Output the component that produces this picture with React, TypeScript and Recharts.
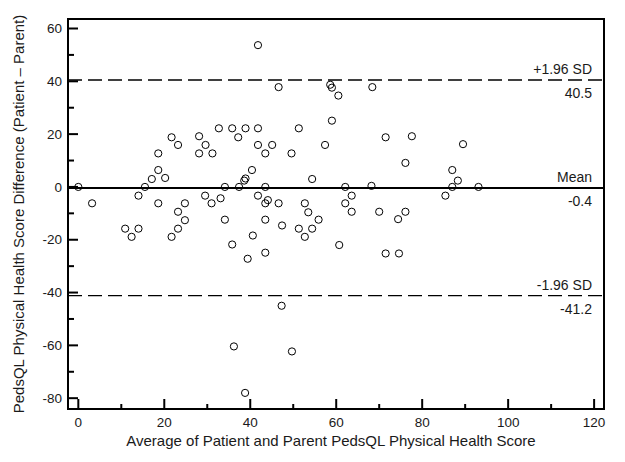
import { ScatterChart, Scatter, XAxis, YAxis, ReferenceLine, ReferenceArea } from 'recharts';

// Bland-Altman: average score (x) vs patient - parent difference (y)
const avgScore = [
  0, 3.2, 10.9, 12.4, 14.0, 14.0, 15.5, 17.1, 18.6, 18.6,
  18.6, 20.2, 21.7, 23.2, 21.7, 23.2, 23.2, 24.8, 24.8, 28.1,
  28.1, 29.6, 31.2, 29.5, 31.0, 33.1, 32.7, 35.8, 37.2, 38.9,
  41.8, 41.8, 41.8, 34.1, 37.4, 38.6, 38.9, 40.4, 41.8, 34.1,
  35.8, 39.4, 40.6, 36.2, 38.8, 43.5, 45.1, 43.5, 44.1, 43.5,
  46.6, 43.5, 43.5, 46.6, 47.4, 47.3, 49.6, 49.7, 51.3, 51.3,
  52.7, 53.5, 54.4, 52.7, 54.4, 55.9, 57.4, 58.6, 59.0, 60.5,
  59.0, 60.7, 62.1, 63.6, 62.1, 63.6, 68.4, 68.2, 70.0, 71.5,
  71.5, 74.4, 74.6, 76.1, 76.1, 77.6, 85.4, 87.0, 88.3, 87.0,
  89.5, 93.1,
];
const scoreDiff = [
  0, -6.2, -15.8, -18.9, -15.8, -3.3, 0, 3.0, 6.4, 12.7,
  -6.2, 3.4, 18.8, 15.9, -18.9, -15.8, -9.4, -6.2, -12.6, 19.2,
  12.7, 15.9, 12.7, -3.3, -6.2, -4.3, 22.2, 22.2, 18.8, 22.2,
  22.2, 15.9, 53.7, 0, 0, 2.4, 3.2, 6.4, -3.3, -12.4,
  -21.8, -27.2, -18.4, -60.4, -78.0, 12.7, 15.9, 0, -5.0, -6.2,
  -6.2, -12.4, -24.9, 37.8, -14.6, -45.0, 12.7, -62.3, 22.2, -15.8,
  -6.2, -9.6, -15.8, -18.9, 3.0, -12.4, 15.9, 38.7, 37.6, 34.6,
  25.1, -22.0, 0, -3.3, -6.2, -9.4, 37.8, 0.4, -9.4, 18.8,
  -25.2, -12.2, -25.2, 9.1, -9.4, 19.2, -3.3, 6.4, 2.4, 0,
  16.2, 0,
];

const meanDiff = -0.4;
const upperLimit = 40.5;
const lowerLimit = -41.2;

const xTicks = [0, 10, 20, 30, 40, 50, 60, 70, 80, 90, 100, 110, 120];
const yTicks = [60, 50, 40, 30, 20, 10, 0, -10, -20, -30, -40, -50, -60, -70, -80];

const X_DOMAIN = [-2.4, 122.3];
const Y_DOMAIN = [-84.1, 63.6];

const FONT = '"Liberation Sans", Arial, sans-serif';
const INK = '#1a1a1a';

const points = avgScore.map((x, i) => ({ x, y: scoreDiff[i] }));

const XTick = ({ x, y, payload }: any) => {
  const major = payload.value % 20 === 0;
  return (
    <g>
      <line x1={x} x2={x} y1={y} y2={y - (major ? 10 : 5)} stroke="#000" strokeWidth={2} />
      {major && (
        <text x={x} y={y + 18} textAnchor="middle" fontFamily={FONT} fontSize={13.5} fill={INK}>
          {payload.value}
        </text>
      )}
    </g>
  );
};

const YTick = ({ x, y, payload }: any) => {
  const major = payload.value % 20 === 0;
  return (
    <g>
      <line x1={x} x2={x + (major ? 10 : 6)} y1={y} y2={y} stroke="#000" strokeWidth={2} />
      {major && (
        <text x={x - 6} y={y} dy="0.35em" textAnchor="end" fontFamily={FONT} fontSize={13.5} fill={INK}>
          {payload.value}
        </text>
      )}
    </g>
  );
};

// two-line label at the right end of a reference line
const sideLabel = (top: string, bottom: string) => (props: any) => {
  const { x, y, width } = props.viewBox;
  const right = x + width - 12;
  return (
    <g fontFamily={FONT} fontSize={14} fill={INK} textAnchor="end">
      <text x={right} y={y - 6}>{top}</text>
      <text x={right} y={y + 18}>{bottom}</text>
    </g>
  );
};

const OpenCircle = ({ cx, cy }: any) => (
  <circle cx={cx} cy={cy} r={3.6} fill="none" stroke="#000" strokeWidth={1} />
);

export default function App() {
  return (
    <div style={{ position: 'absolute', left: 0, top: 0, background: '#fff' }}>
      <ScatterChart width={625} height={462} margin={{ top: 19, right: 21, bottom: 52, left: 67 }}>
        <XAxis
          type="number"
          dataKey="x"
          domain={X_DOMAIN}
          ticks={xTicks}
          allowDataOverflow
          height={1}
          axisLine={false}
          tickLine={false}
          tickSize={0}
          tickMargin={0}
          tick={<XTick />}
          interval={0}
        />
        <YAxis
          type="number"
          dataKey="y"
          domain={Y_DOMAIN}
          ticks={yTicks}
          allowDataOverflow
          width={1}
          axisLine={false}
          tickLine={false}
          tickSize={0}
          tickMargin={0}
          tick={<YTick />}
          interval={0}
        />
        <ReferenceArea
          x1={X_DOMAIN[0]}
          x2={X_DOMAIN[1]}
          y1={Y_DOMAIN[0]}
          y2={Y_DOMAIN[1]}
          fill="none"
          stroke="#000"
          strokeWidth={2}
          ifOverflow="visible"
        />
        <ReferenceLine y={upperLimit} stroke="#000" strokeWidth={1.3} strokeDasharray="14 6" label={sideLabel('+1.96 SD', '40.5')} />
        <ReferenceLine y={meanDiff} stroke="#000" strokeWidth={2} label={sideLabel('Mean', '-0.4')} />
        <ReferenceLine y={lowerLimit} stroke="#000" strokeWidth={1.3} strokeDasharray="14 6" label={sideLabel('-1.96 SD', '-41.2')} />
        <Scatter data={points} shape={<OpenCircle />} isAnimationActive={false} />
        <text x={331} y={446} textAnchor="middle" fontFamily={FONT} fontSize={15} fill={INK}>
          Average of Patient and Parent PedsQL Physical Health Score
        </text>
        <text
          x={24}
          y={214}
          transform="rotate(-90 24 214)"
          textAnchor="middle"
          fontFamily={FONT}
          fontSize={15}
          fill={INK}
        >
          PedsQL Physical Health Score Difference (Patient – Parent)
        </text>
      </ScatterChart>
    </div>
  );
}
